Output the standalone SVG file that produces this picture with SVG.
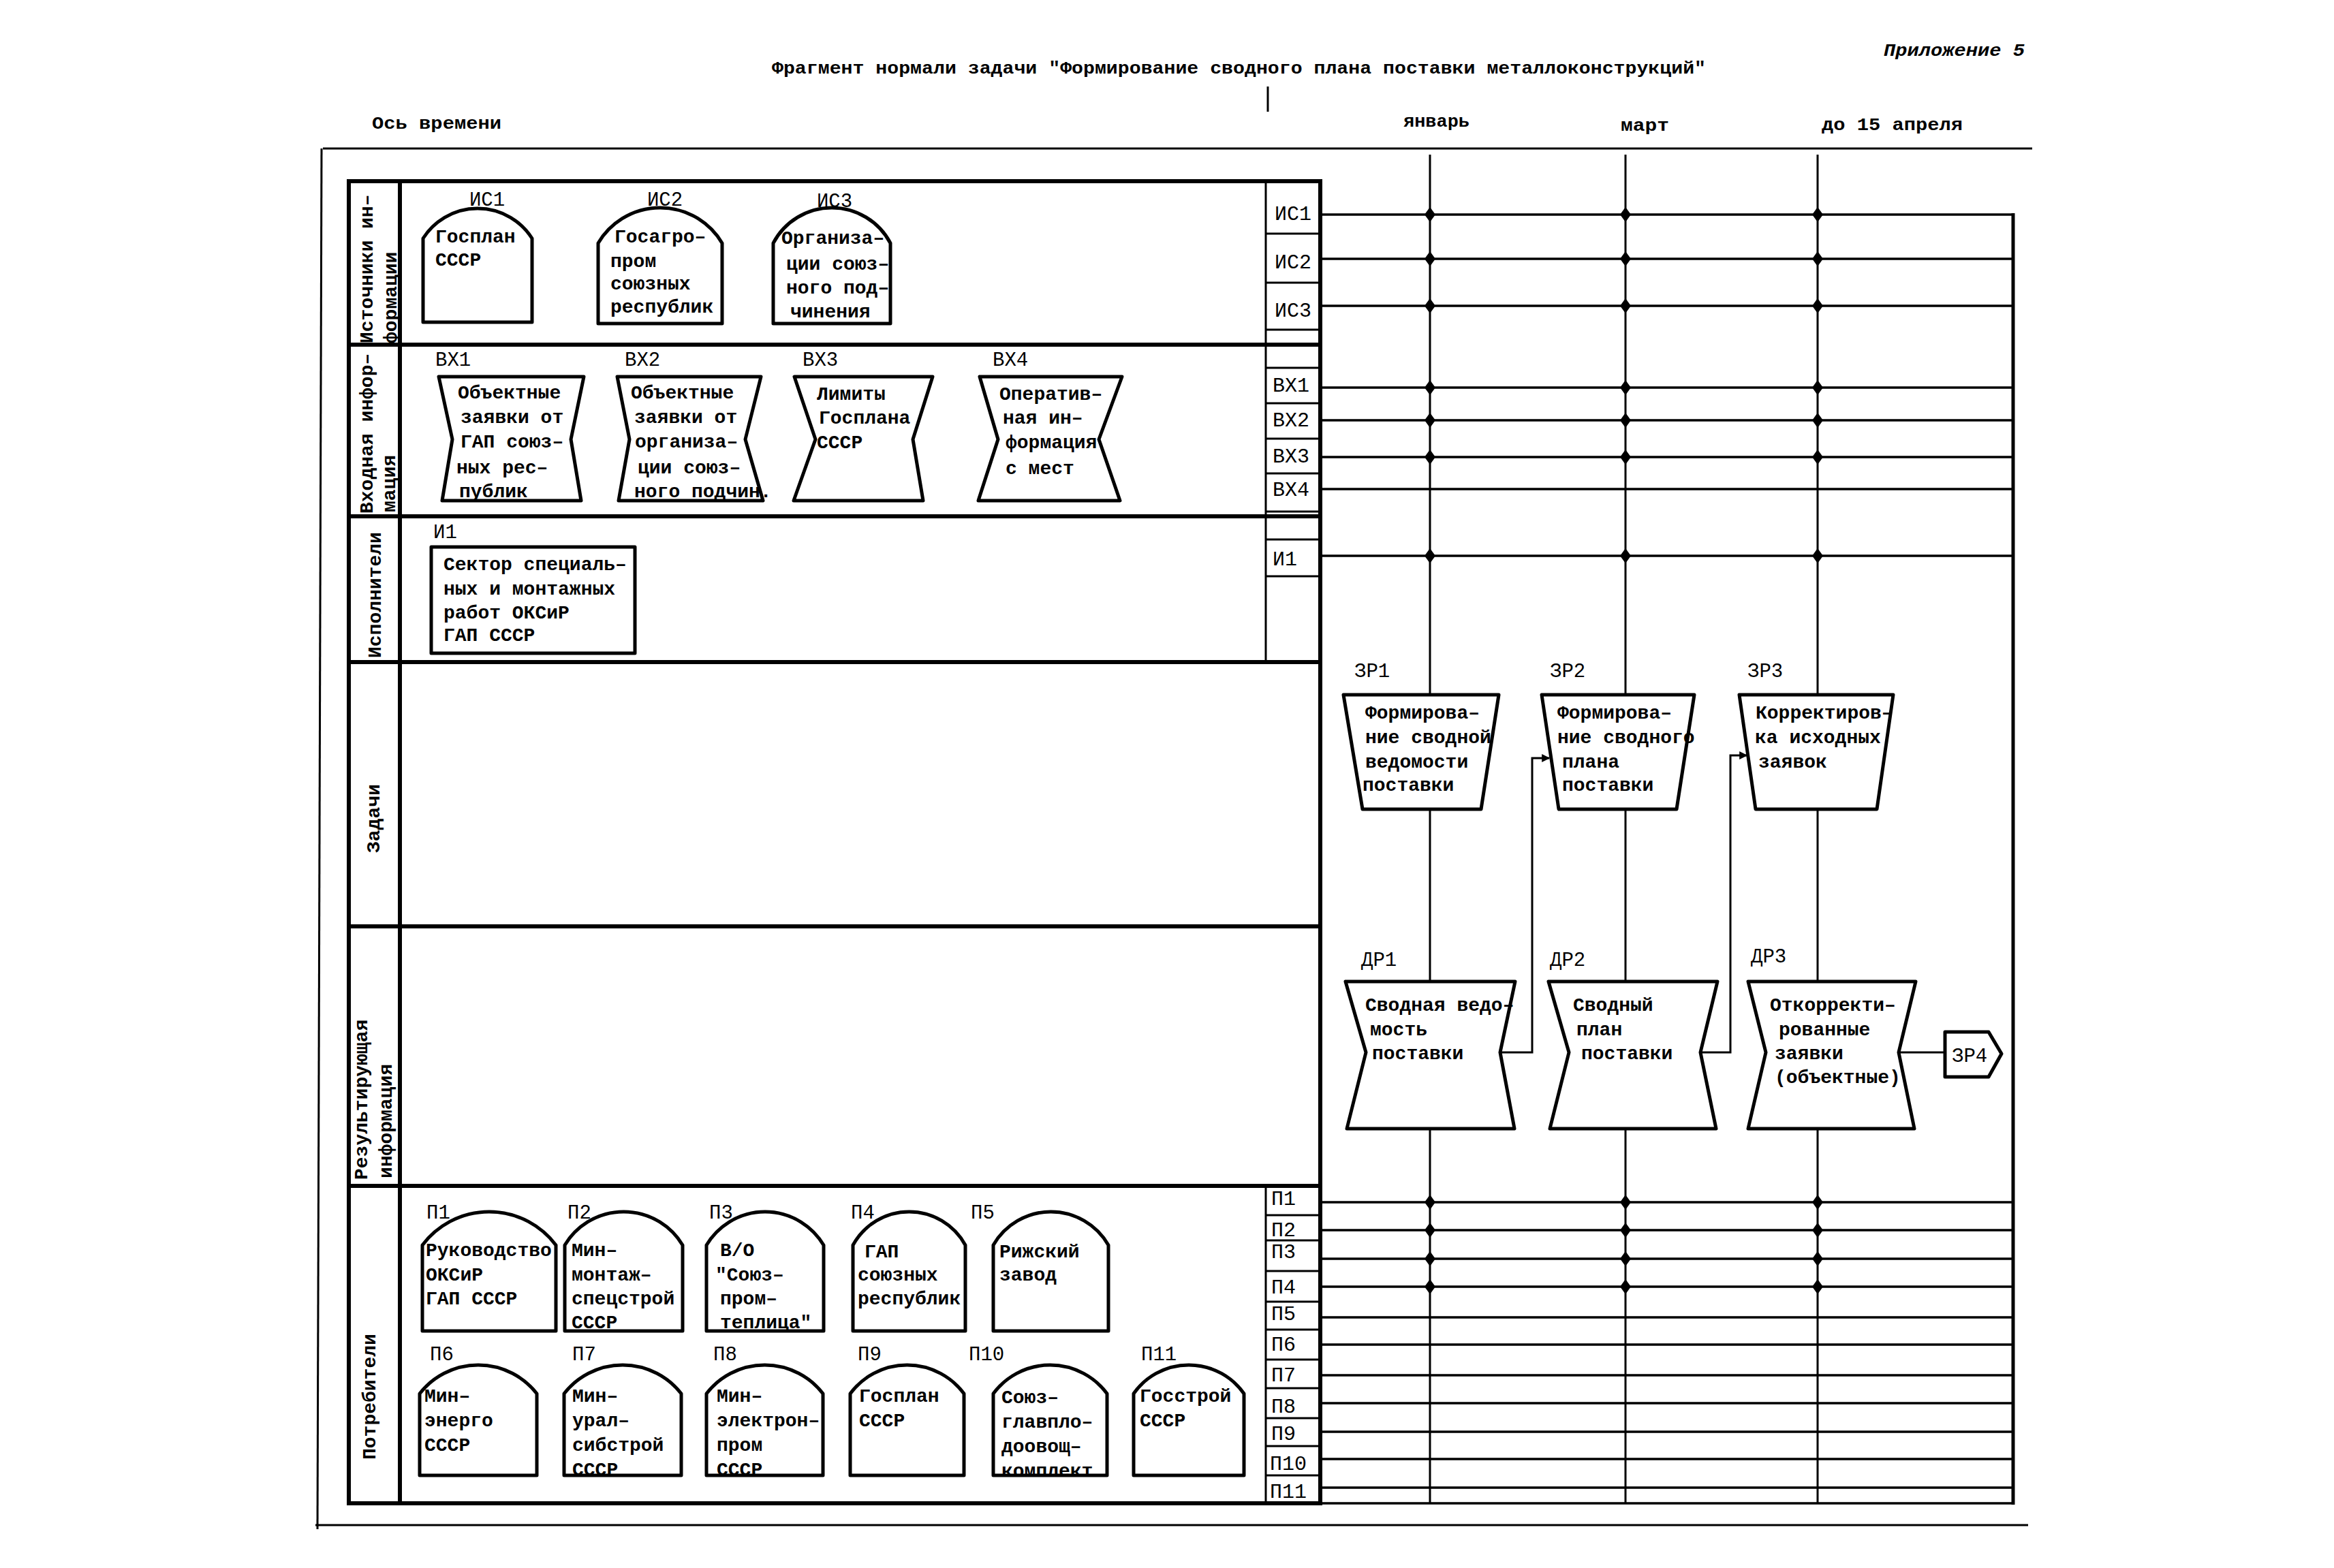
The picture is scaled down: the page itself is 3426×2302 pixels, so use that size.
<svg xmlns="http://www.w3.org/2000/svg" width="3426" height="2302" viewBox="0 0 3426 2302">
<style>
.t{font-family:"Liberation Mono","DejaVu Sans Mono",monospace;font-size:28px;font-weight:bold;fill:#000}
.c{font-family:"Liberation Mono","DejaVu Sans Mono",monospace;font-size:30px;fill:#000}
.lbl{font-family:"Liberation Mono","DejaVu Sans Mono",monospace;font-size:29px;fill:#000}
.rot{font-family:"Liberation Mono","DejaVu Sans Mono",monospace;font-size:28px;font-weight:bold;fill:#000}
.hdr{font-family:"Liberation Mono","DejaVu Sans Mono",monospace;font-size:26px;font-weight:bold;fill:#000}
.sh{fill:#fff;stroke:#000;stroke-width:5;stroke-linejoin:round}
.bg{fill:#fff;stroke:none}
.ol{fill:none;stroke:#000;stroke-width:5;stroke-linejoin:round}
.frame{stroke:#000;stroke-width:3;fill:none}
.thick{stroke:#000;stroke-width:6;fill:none}
.thin{stroke:#000;stroke-width:3;fill:none}
.ln{stroke:#000;stroke-width:3.5;fill:none}
.vl{stroke:#000;stroke-width:3;fill:none}
</style>
<defs>
<path id="dot" d="M0,-11 L8,0 L0,11 L-8,0 Z" fill="#000"/>
<marker id="arr" viewBox="0 0 10 10" refX="9" refY="5" markerWidth="5" markerHeight="4" orient="auto" markerUnits="strokeWidth"><path d="M0,0 L10,5 L0,10 z" fill="#000"/></marker>
</defs>
<rect width="3426" height="2302" fill="#fff"/>

<g id="header">
<text class="hdr" x="2765" y="82" font-style="italic" textLength="207" lengthAdjust="spacingAndGlyphs">Приложение 5</text>
<text class="hdr" x="1133" y="108" font-size="24" textLength="1371" lengthAdjust="spacingAndGlyphs">Фрагмент нормали задачи "Формирование сводного плана поставки металлоконструкций"</text>
<line class="thin" x1="1861" y1="127" x2="1861" y2="164"/>
<text class="hdr" x="546" y="189" textLength="190" lengthAdjust="spacingAndGlyphs">Ось времени</text>
<text class="hdr" x="2060" y="186" textLength="97" lengthAdjust="spacingAndGlyphs">январь</text>
<text class="hdr" x="2379" y="192" textLength="71" lengthAdjust="spacingAndGlyphs">март</text>
<text class="hdr" x="2674" y="191" textLength="207" lengthAdjust="spacingAndGlyphs">до 15 апреля</text>
</g>

<g id="frame">
<line class="frame" x1="474" y1="218" x2="2983" y2="218" stroke-width="4"/>
<line class="frame" x1="472" y1="218" x2="466" y2="2245"/>
<line class="frame" x1="463" y1="2239" x2="2977" y2="2239"/>
<rect class="thick" x="512" y="266" width="1426" height="1941"/>
<line class="thick" x1="587" y1="266" x2="587" y2="2207" stroke-width="5"/>
<line class="thick" x1="512" y1="506" x2="1938" y2="506"/>
<line class="thick" x1="512" y1="758" x2="1938" y2="758"/>
<line class="thick" x1="512" y1="972" x2="1938" y2="972"/>
<line class="thick" x1="512" y1="1360" x2="1938" y2="1360"/>
<line class="thick" x1="512" y1="1741" x2="1938" y2="1741"/>
<line class="thin" x1="1858" y1="266" x2="1858" y2="972"/>
<line class="thin" x1="1858" y1="1741" x2="1858" y2="2207"/>
<g class="thin">
<line x1="1858" y1="343" x2="1938" y2="343"/>
<line x1="1858" y1="415" x2="1938" y2="415"/>
<line x1="1858" y1="484" x2="1938" y2="484"/>
<line x1="1858" y1="540" x2="1938" y2="540"/>
<line x1="1858" y1="592" x2="1938" y2="592"/>
<line x1="1858" y1="644" x2="1938" y2="644"/>
<line x1="1858" y1="695" x2="1938" y2="695"/>
<line x1="1858" y1="751" x2="1938" y2="751"/>
<line x1="1858" y1="792" x2="1938" y2="792"/>
<line x1="1858" y1="846" x2="1938" y2="846"/>
<line x1="1858" y1="1784" x2="1938" y2="1784"/>
<line x1="1858" y1="1821" x2="1938" y2="1821"/>
<line x1="1858" y1="1866" x2="1938" y2="1866"/>
<line x1="1858" y1="1911" x2="1938" y2="1911"/>
<line x1="1858" y1="1952" x2="1938" y2="1952"/>
<line x1="1858" y1="1996" x2="1938" y2="1996"/>
<line x1="1858" y1="2038" x2="1938" y2="2038"/>
<line x1="1858" y1="2082" x2="1938" y2="2082"/>
<line x1="1858" y1="2123" x2="1938" y2="2123"/>
<line x1="1858" y1="2166" x2="1938" y2="2166"/>
</g>
<g class="c">
<text x="1871" y="323">ИС1</text>
<text x="1871" y="394">ИС2</text>
<text x="1871" y="465">ИС3</text>
<text x="1868" y="575">ВХ1</text>
<text x="1868" y="626">ВХ2</text>
<text x="1868" y="679">ВХ3</text>
<text x="1868" y="728">ВХ4</text>
<text x="1868" y="830">И1</text>
<text x="1866" y="1769">П1</text>
<text x="1866" y="1815">П2</text>
<text x="1866" y="1847">П3</text>
<text x="1866" y="1899">П4</text>
<text x="1866" y="1938">П5</text>
<text x="1866" y="1983">П6</text>
<text x="1866" y="2028">П7</text>
<text x="1866" y="2074">П8</text>
<text x="1866" y="2114">П9</text>
<text x="1864" y="2158">П10</text>
<text x="1864" y="2199">П11</text>
</g>
<text class="rot" x="547" y="504" transform="rotate(-90 547 504)">Источники ин–</text>
<text class="rot" x="582" y="504" transform="rotate(-90 582 504)">формации</text>
<text class="rot" x="547" y="754" transform="rotate(-90 547 754)">Входная инфор–</text>
<text class="rot" x="580" y="752" transform="rotate(-90 580 752)">мация</text>
<text class="rot" x="559" y="966" transform="rotate(-90 559 966)">Исполнители</text>
<text class="rot" x="557" y="1252" transform="rotate(-90 557 1252)">Задачи</text>
<text class="rot" x="539" y="1732" transform="rotate(-90 539 1732)">Результирующая</text>
<text class="rot" x="575" y="1730" transform="rotate(-90 575 1730)">информация</text>
<text class="rot" x="551" y="2143" transform="rotate(-90 551 2143)">Потребители</text>
</g>

<g id="connectors">
<g class="ln">
<line x1="1938" y1="315" x2="2955" y2="315"/>
<line x1="1938" y1="380" x2="2955" y2="380"/>
<line x1="1938" y1="449" x2="2955" y2="449"/>
<line x1="1938" y1="569" x2="2955" y2="569"/>
<line x1="1938" y1="617" x2="2955" y2="617"/>
<line x1="1938" y1="671" x2="2955" y2="671"/>
<line x1="1938" y1="718" x2="2955" y2="718"/>
<line x1="1938" y1="816" x2="2955" y2="816"/>
<line x1="1938" y1="1765" x2="2955" y2="1765"/>
<line x1="1938" y1="1806" x2="2955" y2="1806"/>
<line x1="1938" y1="1848" x2="2955" y2="1848"/>
<line x1="1938" y1="1889" x2="2955" y2="1889"/>
<line x1="1938" y1="1934" x2="2955" y2="1934"/>
<line x1="1938" y1="1974" x2="2955" y2="1974"/>
<line x1="1938" y1="2019" x2="2955" y2="2019"/>
<line x1="1938" y1="2060" x2="2955" y2="2060"/>
<line x1="1938" y1="2102" x2="2955" y2="2102"/>
<line x1="1938" y1="2142" x2="2955" y2="2142"/>
<line x1="1938" y1="2184" x2="2955" y2="2184"/>
<line x1="1938" y1="2207" x2="2955" y2="2207"/>
<line x1="2955" y1="313" x2="2955" y2="2209" stroke-width="5"/>
</g>
<g class="vl">
<line x1="2099" y1="227" x2="2099" y2="1020"/>
<line x1="2099" y1="1188" x2="2099" y2="1441"/>
<line x1="2099" y1="1657" x2="2099" y2="2207"/>
<line x1="2386" y1="227" x2="2386" y2="1020"/>
<line x1="2386" y1="1188" x2="2386" y2="1441"/>
<line x1="2386" y1="1657" x2="2386" y2="2207"/>
<line x1="2668" y1="227" x2="2668" y2="1020"/>
<line x1="2668" y1="1188" x2="2668" y2="1441"/>
<line x1="2668" y1="1657" x2="2668" y2="2207"/>
</g>
<g id="dots">
<use href="#dot" x="2099" y="315"/><use href="#dot" x="2386" y="315"/><use href="#dot" x="2668" y="315"/>
<use href="#dot" x="2099" y="380"/><use href="#dot" x="2386" y="380"/><use href="#dot" x="2668" y="380"/>
<use href="#dot" x="2099" y="449"/><use href="#dot" x="2386" y="449"/><use href="#dot" x="2668" y="449"/>
<use href="#dot" x="2099" y="569"/><use href="#dot" x="2386" y="569"/><use href="#dot" x="2668" y="569"/>
<use href="#dot" x="2099" y="617"/><use href="#dot" x="2386" y="617"/><use href="#dot" x="2668" y="617"/>
<use href="#dot" x="2099" y="671"/><use href="#dot" x="2386" y="671"/><use href="#dot" x="2668" y="671"/>
<use href="#dot" x="2099" y="816"/><use href="#dot" x="2386" y="816"/><use href="#dot" x="2668" y="816"/>
<use href="#dot" x="2099" y="1765"/><use href="#dot" x="2386" y="1765"/><use href="#dot" x="2668" y="1765"/>
<use href="#dot" x="2099" y="1806"/><use href="#dot" x="2386" y="1806"/><use href="#dot" x="2668" y="1806"/>
<use href="#dot" x="2099" y="1848"/><use href="#dot" x="2386" y="1848"/><use href="#dot" x="2668" y="1848"/>
<use href="#dot" x="2099" y="1889"/><use href="#dot" x="2386" y="1889"/><use href="#dot" x="2668" y="1889"/>
</g>
<path class="thin" d="M2202,1545 H2249 V1113 H2274" marker-end="url(#arr)"/>
<path class="thin" d="M2496,1545 H2540 V1109 H2564" marker-end="url(#arr)"/>
<line class="thin" x1="2787" y1="1545" x2="2855" y2="1545"/>
</g>

<g id="IS1">
<text class="lbl" x="715" y="302" text-anchor="middle">ИС1</text>
<path class="sh" d="M621,473 V350 A94.7,94.7 0 0 1 781,350 V473 Z"/>
<text class="t" x="639" y="356">Госплан</text>
<text class="t" x="639" y="390">СССР</text>
</g>
<g id="IS2">
<text class="lbl" x="976" y="302" text-anchor="middle">ИС2</text>
<path class="sh" d="M878,475 V357 A105.6,105.6 0 0 1 1060,357 V475 Z"/>
<text class="t" x="902" y="356">Госагро–</text>
<text class="t" x="896" y="392">пром</text>
<text class="t" x="896" y="425">союзных</text>
<text class="t" x="896" y="459">республик</text>
</g>
<g id="IS3">
<text class="lbl" x="1225" y="304" text-anchor="middle">ИС3</text>
<path class="sh" d="M1135,475 V357 A97.1,97.1 0 0 1 1307,357 V475 Z"/>
<text class="t" x="1147" y="358">Организа–</text>
<text class="t" x="1154" y="396">ции союз–</text>
<text class="t" x="1154" y="431">ного под–</text>
<text class="t" x="1160" y="466">чинения</text>
</g>

<g id="VX1">
<text class="lbl" x="639" y="537">ВХ1</text>
<path class="sh" d="M644,553 H857 L838,645 L853,735 H649 L664,645 Z"/>
<text class="t" x="672" y="585">Объектные</text>
<text class="t" x="676" y="621">заявки от</text>
<text class="t" x="676" y="657">ГАП союз–</text>
<text class="t" x="670" y="695">ных рес–</text>
<text class="t" x="674" y="730">публик</text>
</g>
<g id="VX2">
<text class="lbl" x="917" y="537">ВХ2</text>
<path class="sh" d="M906,553 H1117 L1094,645 L1120,735 H908 L924,645 Z"/>
<text class="t" x="926" y="585">Объектные</text>
<text class="t" x="931" y="621">заявки от</text>
<text class="t" x="932" y="657">организа–</text>
<text class="t" x="936" y="695">ции союз–</text>
<text class="t" x="931" y="730">ного подчин.</text>
</g>
<g id="VX3">
<text class="lbl" x="1178" y="537">ВХ3</text>
<path class="sh" d="M1166,553 H1369 L1340,645 L1355,735 H1165 L1197,645 Z"/>
<text class="t" x="1199" y="587">Лимиты</text>
<text class="t" x="1202" y="622">Госплана</text>
<text class="t" x="1199" y="658">СССР</text>
</g>
<g id="VX4">
<text class="lbl" x="1457" y="537">ВХ4</text>
<path class="sh" d="M1438,553 H1647 L1613,645 L1644,735 H1436 L1465,645 Z"/>
<text class="t" x="1467" y="587">Оператив–</text>
<text class="t" x="1472" y="622">ная ин–</text>
<text class="t" x="1476" y="658">формация</text>
<text class="t" x="1476" y="696">с мест</text>
</g>

<g id="I1">
<text class="lbl" x="636" y="790">И1</text>
<rect class="sh" x="633" y="803" width="299" height="156"/>
<text class="t" x="651" y="837">Сектор специаль–</text>
<text class="t" x="651" y="873">ных и монтажных</text>
<text class="t" x="651" y="908">работ ОКСиР</text>
<text class="t" x="651" y="941">ГАП СССР</text>
</g>

<g id="ZR1">
<text class="lbl" x="1988" y="994">ЗР1</text>
<path class="sh" d="M1972,1020 H2200 L2174,1188 H2000 Z"/>
<text class="t" x="2004" y="1055">Формирова–</text>
<text class="t" x="2004" y="1091">ние сводной</text>
<text class="t" x="2004" y="1127">ведомости</text>
<text class="t" x="2000" y="1161">поставки</text>
</g>
<g id="ZR2">
<text class="lbl" x="2275" y="994">ЗР2</text>
<path class="sh" d="M2263,1020 H2487 L2461,1188 H2288 Z"/>
<text class="t" x="2286" y="1055">Формирова–</text>
<text class="t" x="2286" y="1091">ние сводного</text>
<text class="t" x="2293" y="1127">плана</text>
<text class="t" x="2293" y="1161">поставки</text>
</g>
<g id="ZR3">
<text class="lbl" x="2565" y="994">ЗР3</text>
<path class="sh" d="M2553,1020 H2779 L2755,1188 H2577 Z"/>
<text class="t" x="2577" y="1055">Корректиров–</text>
<text class="t" x="2576" y="1091">ка исходных</text>
<text class="t" x="2581" y="1127">заявок</text>
</g>

<g id="DR1">
<text class="lbl" x="1998" y="1418">ДР1</text>
<path class="sh" d="M1975,1441 H2224 L2202,1545 L2223,1657 H1977 L2005,1545 Z"/>
<text class="t" x="2004" y="1484">Сводная ведо–</text>
<text class="t" x="2011" y="1520">мость</text>
<text class="t" x="2014" y="1555">поставки</text>
</g>
<g id="DR2">
<text class="lbl" x="2275" y="1418">ДР2</text>
<path class="sh" d="M2273,1441 H2521 L2496,1545 L2519,1657 H2275 L2303,1545 Z"/>
<text class="t" x="2309" y="1484">Сводный</text>
<text class="t" x="2314" y="1520">план</text>
<text class="t" x="2321" y="1555">поставки</text>
</g>
<g id="DR3">
<text class="lbl" x="2570" y="1413">ДР3</text>
<path class="sh" d="M2566,1441 H2812 L2787,1545 L2810,1657 H2566 L2592,1545 Z"/>
<text class="t" x="2598" y="1484">Откорректи–</text>
<text class="t" x="2611" y="1520">рованные</text>
<text class="t" x="2605" y="1555">заявки</text>
<text class="t" x="2605" y="1590">(объектные)</text>
</g>
<g id="ZR4">
<path class="sh" d="M2855,1515 H2919 L2938,1547 L2919,1581 H2855 Z"/>
<text class="lbl" x="2865" y="1559">ЗР4</text>
</g>

<g id="P1">
<path class="sh" d="M620,1954 V1828 A122.5,122.5 0 0 1 816,1828 V1954 Z"/>
<text class="lbl" x="626" y="1789">П1</text>
<text class="t" x="625" y="1844">Руководство</text>
<text class="t" x="625" y="1880">ОКСиР</text>
<text class="t" x="625" y="1915">ГАП СССР</text>
</g>
<g id="P2">
<path class="bg" d="M829,1954 V1828 A100.8,100.8 0 0 1 1002,1828 V1954 Z"/>
<text class="lbl" x="833" y="1789">П2</text>
<text class="t" x="839" y="1844">Мин–</text>
<text class="t" x="839" y="1880">монтаж–</text>
<text class="t" x="839" y="1915">спецстрой</text>
<text class="t" x="839" y="1950">СССР</text>
<path class="ol" d="M829,1954 V1828 A100.8,100.8 0 0 1 1002,1828 V1954 Z"/>
</g>
<g id="P3">
<path class="bg" d="M1037,1954 V1828 A100,100 0 0 1 1209,1828 V1954 Z"/>
<text class="lbl" x="1041" y="1789">П3</text>
<text class="t" x="1057" y="1844">В/О</text>
<text class="t" x="1050" y="1880">"Союз–</text>
<text class="t" x="1057" y="1915">пром–</text>
<text class="t" x="1057" y="1950">теплица"</text>
<path class="ol" d="M1037,1954 V1828 A100,100 0 0 1 1209,1828 V1954 Z"/>
</g>
<g id="P4">
<path class="sh" d="M1252,1954 V1828 A94,94 0 0 1 1417,1828 V1954 Z"/>
<text class="lbl" x="1249" y="1789">П4</text>
<text class="t" x="1269" y="1846">ГАП</text>
<text class="t" x="1259" y="1880">союзных</text>
<text class="t" x="1259" y="1915">республик</text>
</g>
<g id="P5">
<path class="sh" d="M1458,1954 V1828 A97.4,97.4 0 0 1 1627,1828 V1954 Z"/>
<text class="lbl" x="1425" y="1789">П5</text>
<text class="t" x="1467" y="1846">Рижский</text>
<text class="t" x="1467" y="1880">завод</text>
</g>
<g id="P6">
<path class="sh" d="M616,2166 V2046 A109,109 0 0 1 788,2046 V2166 Z"/>
<text class="lbl" x="631" y="1997">П6</text>
<text class="t" x="623" y="2058">Мин–</text>
<text class="t" x="623" y="2094">энерго</text>
<text class="t" x="623" y="2130">СССР</text>
</g>
<g id="P7">
<path class="bg" d="M828,2166 V2046 A109,109 0 0 1 1000,2046 V2166 Z"/>
<text class="lbl" x="840" y="1997">П7</text>
<text class="t" x="840" y="2058">Мин–</text>
<text class="t" x="840" y="2094">урал–</text>
<text class="t" x="840" y="2130">сибстрой</text>
<text class="t" x="840" y="2166">СССР</text>
<path class="ol" d="M828,2166 V2046 A109,109 0 0 1 1000,2046 V2166 Z"/>
</g>
<g id="P8">
<path class="bg" d="M1037,2166 V2046 A108,108 0 0 1 1208,2046 V2166 Z"/>
<text class="lbl" x="1047" y="1997">П8</text>
<text class="t" x="1052" y="2058">Мин–</text>
<text class="t" x="1052" y="2094">электрон–</text>
<text class="t" x="1052" y="2130">пром</text>
<text class="t" x="1052" y="2166">СССР</text>
<path class="ol" d="M1037,2166 V2046 A108,108 0 0 1 1208,2046 V2166 Z"/>
</g>
<g id="P9">
<path class="sh" d="M1248,2166 V2046 A104,104 0 0 1 1415,2046 V2166 Z"/>
<text class="lbl" x="1259" y="1997">П9</text>
<text class="t" x="1261" y="2058">Госплан</text>
<text class="t" x="1261" y="2094">СССР</text>
</g>
<g id="P10">
<path class="bg" d="M1458,2166 V2046 A104,104 0 0 1 1625,2046 V2166 Z"/>
<text class="lbl" x="1422" y="1997">П10</text>
<text class="t" x="1470" y="2060">Союз–</text>
<text class="t" x="1470" y="2096">главпло–</text>
<text class="t" x="1470" y="2132">доовощ–</text>
<text class="t" x="1470" y="2168">комплект</text>
<path class="ol" d="M1458,2166 V2046 A104,104 0 0 1 1625,2046 V2166 Z"/>
</g>
<g id="P11">
<path class="sh" d="M1664,2166 V2046 A99,99 0 0 1 1826,2046 V2166 Z"/>
<text class="lbl" x="1675" y="1997">П11</text>
<text class="t" x="1673" y="2058">Госстрой</text>
<text class="t" x="1673" y="2094">СССР</text>
</g>
</svg>
